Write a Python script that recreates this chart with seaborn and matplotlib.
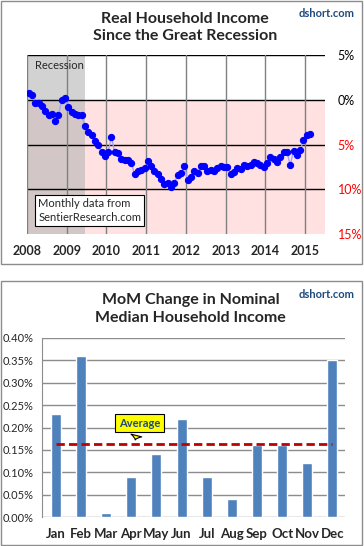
import numpy as np
import pandas as pd
import matplotlib
matplotlib.use("Agg")
import matplotlib.pyplot as plt
from matplotlib.patches import Rectangle
import seaborn as sns

# real household income, % change (monthly Jan 2008 - Feb 2015)
income_2008 = [0.75, 0.56, -0.37, -0.37, -0.75, -1.3, -1.7, -1.6, -2.35, -1.7, 0.0, 0.2]
income_2009 = [-0.8, -1.4, -1.6, -1.7, -1.75, -2.9, -3.65, -3.9, -4.6, -5.0, -5.85, -6.25]
income_2010 = [-5.8, -4.2, -5.85, -6.0, -6.6, -6.7, -6.7, -7.1, -8.3, -8.0, -7.8, -7.65]
income_2011 = [-6.8, -7.4, -7.95, -8.3, -8.9, -9.45, -9.25, -9.7, -9.25, -8.4, -8.2, -7.35]
income_2012 = [-8.95, -8.6, -8.0, -8.2, -7.4, -7.4, -7.95, -7.9, -8.0, -7.65, -7.35, -7.55]
income_2013 = [-7.55, -8.3, -8.1, -7.65, -7.75, -7.3, -7.4, -7.3, -6.95, -7.1, -7.3, -7.55]
income_2014 = [-7.1, -6.4, -6.65, -6.9, -6.4, -5.85, -5.8, -7.3, -5.7, -6.15, -5.65, -4.55]
income_2015 = [-3.9, -3.85]

years = [2008, 2009, 2010, 2011, 2012, 2013, 2014, 2015]
ytick_vals = [5, 0, -5, -10, -15]
ytick_labels = ["5%", "0%", "5%", "10%", "15%"]
ytick_colors = ["black", "black", "red", "red", "red"]

# MoM change in nominal median household income (%)
months = ["Jan", "Feb", "Mar", "Apr", "May", "Jun", "Jul", "Aug", "Sep", "Oct", "Nov", "Dec"]
mom = [0.23, 0.36, 0.01, 0.09, 0.14, 0.22, 0.09, 0.04, 0.16, 0.16, 0.12, 0.35]

income = (income_2008 + income_2009 + income_2010 + income_2011 +
          income_2012 + income_2013 + income_2014 + income_2015)
t = [2008 + (i + 0.5) / 12 for i in range(len(income))]
df = pd.DataFrame({"t": t, "income": income})
bars = pd.DataFrame({"month": months, "mom": mom})

sns.set_style("white")
plt.rcParams["font.family"] = ["Lato", "DejaVu Sans"]

fig = plt.figure(figsize=(3.64, 5.46), dpi=100)
W, H = 364, 546

# panel frames
fig.patches.append(Rectangle((1 / W, 1 - 264 / H), 361 / W, 263 / H, transform=fig.transFigure,
                             fill=False, ec="#8c8c8c", lw=1))
fig.patches.append(Rectangle((1 / W, 1 / H), 361 / W, 264 / H, transform=fig.transFigure,
                             fill=False, ec="#8c8c8c", lw=1))

# ---- top chart
ax1 = fig.add_axes([27 / W, 1 - 234 / H, 298 / W, 179 / H])
ax1.set_xlim(2008, 2015.5)
ax1.set_ylim(-15, 5)
ax1.axhspan(-15, 0, color="#ffe1e1", lw=0, zorder=0)
ax1.axvspan(2008, 2009.45, color="#b5b5b5", alpha=0.6, lw=0, zorder=0.5)
for y in [5, 0, -5, -10]:
    ax1.axhline(y, color="black", lw=1, zorder=1)
for yr in years:
    ax1.axvline(yr, color="#808080", lw=1, zorder=1)
sns.lineplot(data=df, x="t", y="income", ax=ax1, color="#a3a3ff", lw=1, marker="o",
             markersize=4.5, markerfacecolor="#0000ff", markeredgecolor="#0000ff", zorder=3)
for s in ax1.spines.values():
    s.set_visible(False)
ax1.set_xlabel("")
ax1.set_ylabel("")
ax1.set_xticks(years)
ax1.set_xticklabels([str(y) for y in years], fontsize=9, fontweight="bold")
ax1.yaxis.tick_right()
ax1.set_yticks(ytick_vals)
ax1.set_yticklabels(ytick_labels, fontsize=9)
for lab, c in zip(ax1.get_yticklabels(), ytick_colors):
    lab.set_color(c)
ax1.tick_params(axis="y", length=0, pad=9)
ax1.tick_params(axis="x", length=0, pad=8)
ax1.text(2008.2, 3.8, "Recession", fontsize=8, va="center", ha="left")
ax1.text(2008.28, -12.4, "Monthly data from\nSentierResearch.com", fontsize=8, va="center", ha="left",
         linespacing=1.3, bbox=dict(boxstyle="square,pad=0.3", fc="white", ec="black", lw=0.8), zorder=5)

fig.text(0.508, 0.9496, "Real Household Income\nSince the Great Recession", ha="center", va="center",
         fontsize=11.5, fontweight="bold", linespacing=1.35)
fig.text(0.896, 0.976, "dshort.com", ha="center", va="center", fontsize=8, fontweight="bold", color="#1f497d")

# ---- bottom chart
ax2 = fig.add_axes([42 / W, 1 - 517 / H, 303 / W, 179 / H])
sns.barplot(data=bars, x="month", y="mom", ax=ax2, color="#4f81bd", saturation=1, width=0.4, zorder=3)
ax2.set_xlim(-0.55, 11.5)
ax2.set_ylim(0, 0.40)
ax2.set_yticks(np.arange(0, 0.41, 0.05))
ax2.set_yticklabels(["%.2f%%" % v for v in np.arange(0, 0.41, 0.05)], fontsize=8)
ax2.grid(axis="y", color="#8c8c8c", lw=1, zorder=0)
ax2.set_axisbelow(True)
for k in ["top", "right", "bottom"]:
    ax2.spines[k].set_visible(False)
ax2.spines["left"].set_color("#8c8c8c")
ax2.set_xlabel("")
ax2.set_ylabel("")
ax2.set_xticks(range(12))
ax2.set_xticklabels(months, fontsize=9.5, fontweight="bold")
ax2.tick_params(axis="x", length=0, pad=8)
ax2.tick_params(axis="y", length=0, pad=6)

avg = float(np.mean(mom))
ax2.plot([0, 11], [avg, avg], color="#c00000", lw=2, ls=(0, (3, 1.5)), zorder=4)
ax2.annotate("Average", xy=(3.13, avg + 0.002), xytext=(3.33, 0.21), ha="center", va="center",
             fontsize=8, fontweight="bold", color="#1f497d",
             bbox=dict(boxstyle="square,pad=0.35", fc="#ffff00", ec="black", lw=0.8),
             arrowprops=dict(arrowstyle="wedge,tail_width=1.0,shrink_factor=0.3", fc="#ffff00", ec="black", lw=0.8),
             zorder=5)

fig.text(0.523, 0.434, "MoM Change in Nominal\nMedian Household Income", ha="center", va="center",
         fontsize=11.5, fontweight="bold", linespacing=1.35)
fig.text(0.896, 0.4615, "dshort.com", ha="center", va="center", fontsize=8, fontweight="bold", color="#1f497d")

fig.savefig("out.png", dpi=100)
